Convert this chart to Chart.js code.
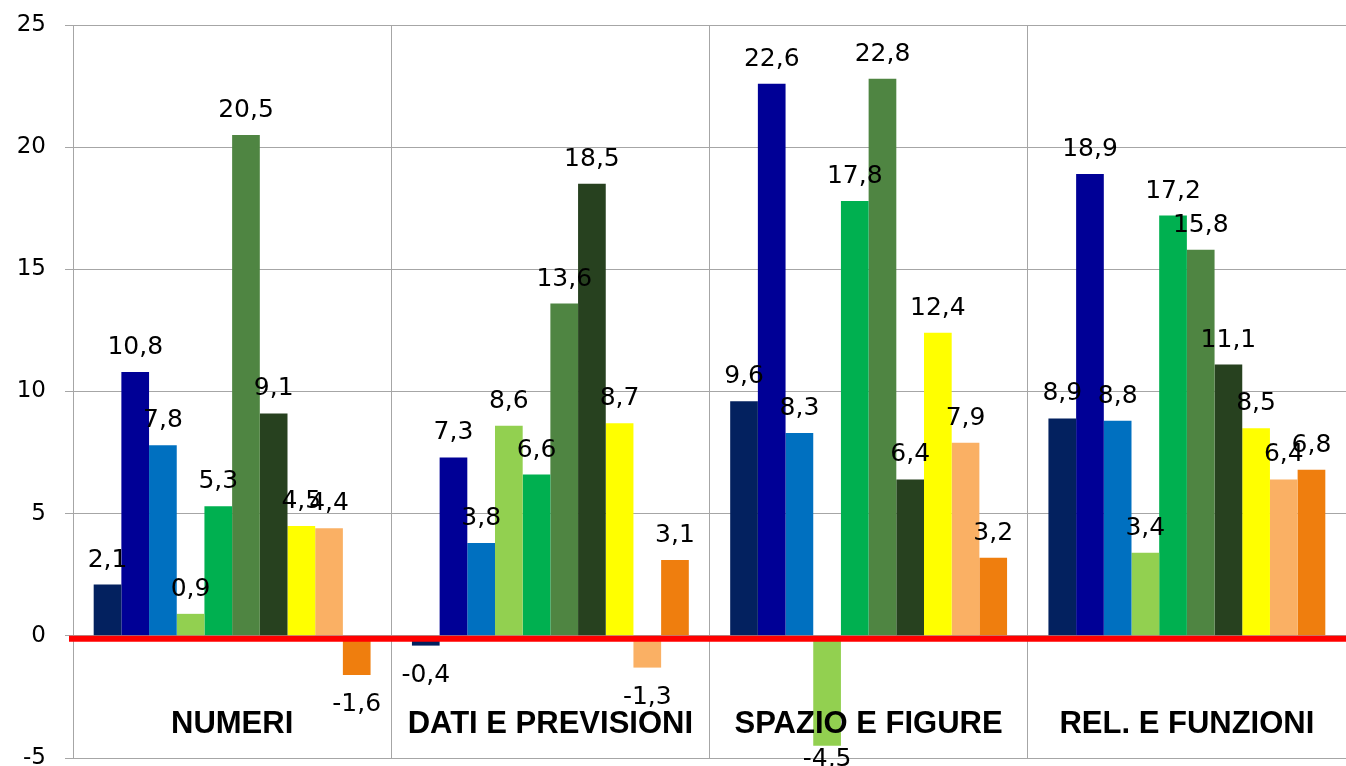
<!DOCTYPE html>
<html><head><meta charset="utf-8">
<script src="https://cdn.jsdelivr.net/npm/chart.js@4"></script>
<style>html,body{margin:0;padding:0;background:#fff;overflow:hidden;} #wrap{width:1346px;height:766px;position:relative;}</style>
</head><body><div id="wrap"><canvas id="c"></canvas></div>
<script>
const categories = ['NUMERI', 'DATI E PREVISIONI', 'SPAZIO E FIGURE', 'REL. E FUNZIONI'];
const series1 = [2.1, -0.4, 9.6, 8.9];
const series2 = [10.8, 7.3, 22.6, 18.9];
const series3 = [7.8, 3.8, 8.3, 8.8];
const series4 = [0.9, 8.6, -4.5, 3.4];
const series5 = [5.3, 6.6, 17.8, 17.2];
const series6 = [20.5, 13.6, 22.8, 15.8];
const series7 = [9.1, 18.5, 6.4, 11.1];
const series8 = [4.5, 8.7, 12.4, 8.5];
const series9 = [4.4, -1.3, 7.9, 6.4];
const series10 = [-1.6, 3.1, 3.2, 6.8];
const yTicks = [-5, 0, 5, 10, 15, 20, 25];

const allSeries = [series1, series2, series3, series4, series5, series6, series7, series8, series9, series10];
const seriesColors = ['#03215F', '#000096', '#0070C0', '#92D050', '#00B050', '#4F8542', '#27411F', '#FFFF00', '#FAB064', '#EF7E0E'];

const fmt = v => v.toFixed(1).replace('.', ',');

const zeroLinePlugin = {
  id: 'zeroLine',
  afterDatasetsDraw(chart) {
    const { ctx, chartArea, scales } = chart;
    const y0 = scales.y.getPixelForValue(0);
    ctx.save();
    ctx.strokeStyle = '#FF0000';
    ctx.lineWidth = 6;
    ctx.beginPath();
    ctx.moveTo(chartArea.left - 4, y0 + 3);
    ctx.lineTo(chartArea.right, y0 + 3);
    ctx.stroke();
    ctx.restore();
  }
};

const labelsPlugin = {
  id: 'labels',
  afterDatasetsDraw(chart) {
    const { ctx, chartArea, scales } = chart;
    ctx.save();
    ctx.font = 'bold 31px "Liberation Sans", Arial, sans-serif';
    ctx.fillStyle = '#000';
    ctx.textAlign = 'center';
    ctx.textBaseline = 'alphabetic';
    categories.forEach((c, i) => {
      const x = scales.x.getPixelForTick(i);
      ctx.fillText(c, x, chartArea.bottom - 25);
    });
    ctx.font = '25px "DejaVu Sans", Verdana, sans-serif';
    chart.data.datasets.forEach((ds, di) => {
      const meta = chart.getDatasetMeta(di);
      meta.data.forEach((bar, i) => {
        const v = ds.data[i];
        let y;
        if (v >= 0) {
          y = bar.y - 18;
        } else {
          y = Math.min(bar.y + 36, chart.height);
        }
        ctx.fillText(fmt(v), bar.x, y);
      });
    });
    ctx.restore();
  }
};

const gridGray = '#A6A6A6';

new Chart(document.getElementById('c'), {
  type: 'bar',
  data: {
    labels: categories,
    datasets: allSeries.map((s, i) => ({
      label: 'Serie ' + (i + 1),
      data: s,
      backgroundColor: seriesColors[i],
      borderWidth: 0,
      categoryPercentage: 0.87,
      barPercentage: 1.0
    }))
  },
  options: {
    responsive: true,
    maintainAspectRatio: false,
    animation: false,
    layout: { autoPadding: false, padding: { top: 25, bottom: 8, left: 0, right: 0 } },
    plugins: { legend: { display: false }, tooltip: { enabled: false } },
    scales: {
      x: {
        offset: true,
        ticks: { display: false },
        grid: { display: true, color: gridGray, lineWidth: 1, drawTicks: false, offset: true },
        border: { display: true, color: gridGray, width: 1 },
        afterFit(scale) { scale.height = 0; scale.paddingLeft = 0; scale.paddingRight = 0; }
      },
      y: {
        min: yTicks[0],
        max: yTicks[yTicks.length - 1],
        afterBuildTicks(scale) { scale.ticks = yTicks.map(v => ({ value: v })); },
        ticks: {
          color: '#000',
          padding: 19,
          font: { family: '"DejaVu Sans", Verdana, sans-serif', size: 23 },
          callback: v => String(v)
        },
        grid: { color: gridGray, lineWidth: 1, drawTicks: true, tickLength: 8, tickColor: gridGray },
        border: { display: true, color: gridGray, width: 1 },
        afterFit(scale) { scale.width = 73; scale.paddingTop = 0; scale.paddingBottom = 0; }
      }
    }
  },
  plugins: [zeroLinePlugin, labelsPlugin]
});
</script>
</body></html>
